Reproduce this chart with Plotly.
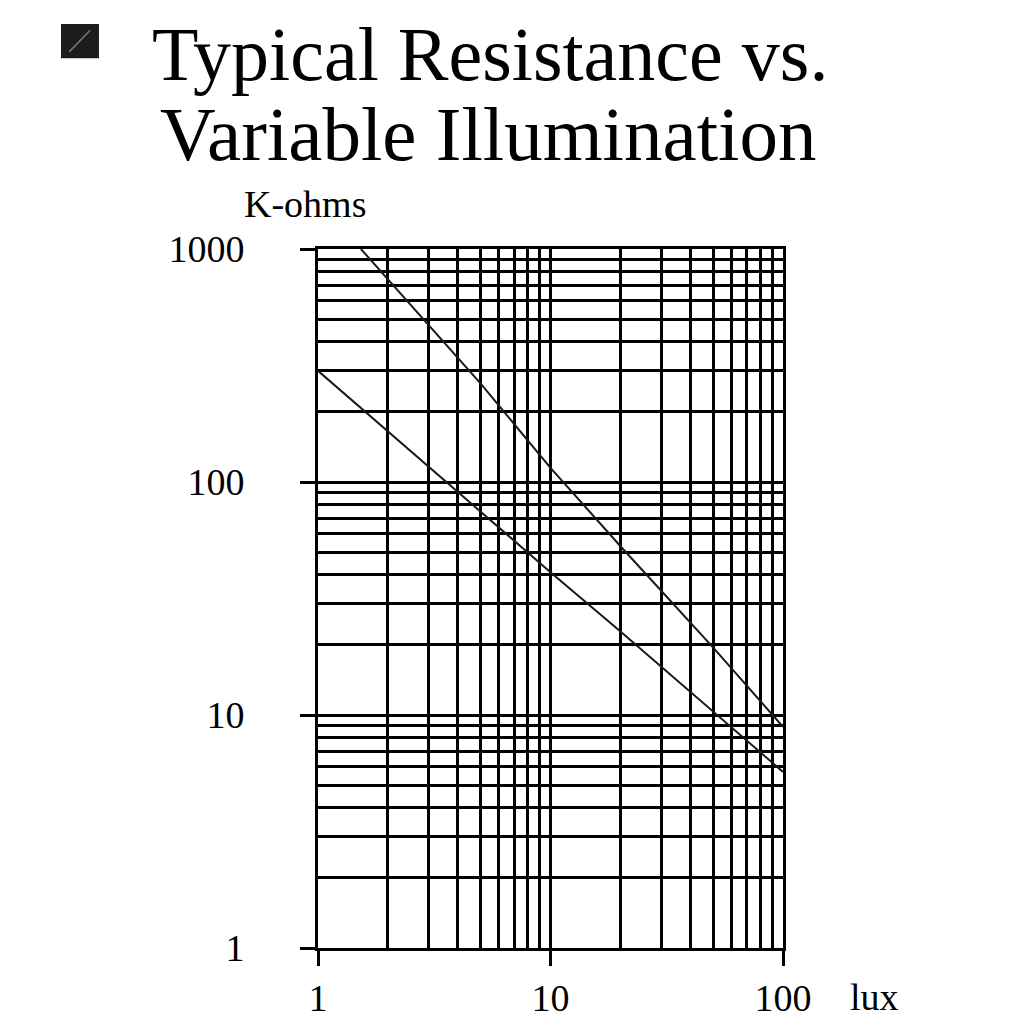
import plotly.graph_objects as go

# Data (lux vs K-ohms, log-log)
lux_upper = [1.53, 2, 5, 10, 20, 50, 100]
kohm_upper = [1000, 740, 265, 115, 53, 19.5, 8.9]
lux_lower = [1, 2, 5, 10, 20, 50, 100]
kohm_lower = [300, 165, 75, 41, 22.8, 10.4, 5.7]

x_major = [1, 10, 100]
x_major_text = ["1", "10", "100"]
x_minor = [2, 3, 4, 5, 6, 7, 8, 9, 20, 30, 40, 50, 60, 70, 80, 90]
y_major = [1, 10, 100, 1000]
y_major_text = ["1", "10", "100", "1000"]
y_minor = [2, 3, 4, 5, 6, 7, 8, 9, 20, 30, 40, 50, 60, 70, 80, 90,
           200, 300, 400, 500, 600, 700, 800, 900]

title_line1 = "Typical Resistance vs."
title_line2 = "Variable Illumination"
y_unit = "K-ohms"
x_unit = "lux"

FONT = "Liberation Serif"
GW = 2.6

fig = go.Figure()
fig.add_trace(go.Scatter(x=lux_upper, y=kohm_upper, mode="lines",
                         line=dict(color="#1a1a1a", width=2), showlegend=False))
fig.add_trace(go.Scatter(x=lux_lower, y=kohm_lower, mode="lines",
                         line=dict(color="#1a1a1a", width=2), showlegend=False))

axis_common = dict(
    type="log", showgrid=True, gridcolor="black", gridwidth=GW,
    ticks="outside", ticklen=15, tickwidth=GW, tickcolor="black",
    showline=True, linecolor="black", linewidth=GW, mirror=True,
    zeroline=False, tickmode="array", automargin=False,
    tickfont=dict(family=FONT, size=38, color="black"),
)

fig.update_xaxes(**axis_common, range=[0, 2], tickvals=x_major, ticktext=x_major_text,
                 minor=dict(tickmode="array", tickvals=x_minor, showgrid=True,
                            gridcolor="black", gridwidth=GW, ticks=""),
                 ticklabelstandoff=0)
fig.update_yaxes(**axis_common, range=[0, 3], tickvals=y_major, ticktext=y_major_text,
                 minor=dict(tickmode="array", tickvals=y_minor, showgrid=True,
                            gridcolor="black", gridwidth=GW, ticks=""),
                 ticklabelstandoff=48)

fig.update_layout(
    width=1024, height=1024,
    margin=dict(l=310, r=249, t=241, b=84, autoexpand=False),
    paper_bgcolor="white", plot_bgcolor="white",
    font=dict(family=FONT, color="black"),
    annotations=[
        dict(text=title_line1, xref="paper", yref="paper", x=-0.361, y=1.2795,
             xanchor="left", yanchor="middle", showarrow=False,
             font=dict(family=FONT, size=76, color="black")),
        dict(text=title_line2, xref="paper", yref="paper", x=-0.344, y=1.164,
             xanchor="left", yanchor="middle", showarrow=False,
             font=dict(family=FONT, size=77, color="black")),
        dict(text=y_unit, xref="paper", yref="paper", x=-0.028, y=1.0644,
             xanchor="center", yanchor="middle", showarrow=False,
             font=dict(family=FONT, size=38, color="black")),
        dict(text=x_unit, xref="paper", yref="paper", x=1.196, y=-0.070,
             xanchor="center", yanchor="middle", showarrow=False,
             font=dict(family=FONT, size=38, color="black")),
    ],
    shapes=[
        dict(type="rect", xref="paper", yref="paper",
             x0=-0.5527, x1=-0.471, y0=1.273, y1=1.322,
             fillcolor="#1c1c1c", line=dict(width=0)),
        dict(type="line", xref="paper", yref="paper",
             x0=-0.535, x1=-0.49, y0=1.282, y1=1.313,
             line=dict(color="#777777", width=1.5)),
    ],
)

fig.write_html("out.html")
